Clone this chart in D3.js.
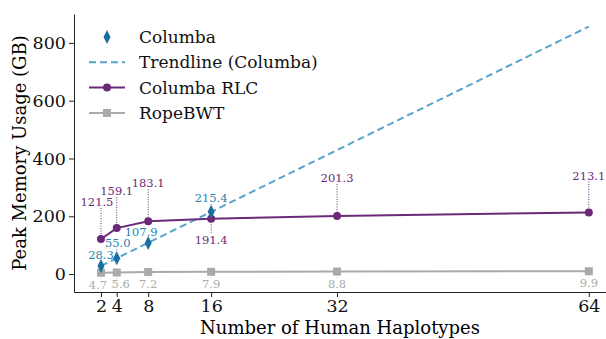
<!DOCTYPE html>
<html>
<head>
<meta charset="utf-8">
<script src="https://cdn.jsdelivr.net/npm/d3@7"></script>
<style>
  body { margin: 0; background: #fff; }
</style>
</head>
<body>
<svg id="svg"></svg>
<script>
const haplotypes = [2, 4, 8, 16, 32, 64];
const columbaX = [2, 4, 8, 16];
const columba = [28.3, 55.0, 107.9, 215.4];
const columbaRLC = [121.5, 159.1, 183.1, 191.4, 201.3, 213.1];
const ropeBWT = [4.7, 5.6, 7.2, 7.9, 8.8, 9.9];
const yTicks = [0, 200, 400, 600, 800];

const width = 606, height = 339;
const blue = "#1b6fa0", trendBlue = "#5aa3cc", purple = "#6b2a78", grey = "#aaaaaa";
const font = "DejaVu Serif";

const svg = d3.select("#svg")
  .attr("width", width)
  .attr("height", height)
  .attr("viewBox", [0, 0, width, height])
  .attr("font-family", font);

const x = d3.scaleLinear([-1.43, 67.2], [74, 614]);
const y = d3.scaleLinear([-62, 900], [292, 14]);

// least squares fit of Columba points
const mx = d3.mean(columbaX), my = d3.mean(columba);
const slope = d3.sum(columbaX, (v, i) => (v - mx) * (columba[i] - my)) / d3.sum(columbaX, v => (v - mx) ** 2);
const icept = my - slope * mx;
const trendX = [haplotypes[0], haplotypes[haplotypes.length - 1]];

// axes
const xAxis = svg.append("g")
  .attr("transform", `translate(0,${y(-62)})`)
  .call(d3.axisBottom(x).tickValues(haplotypes).tickSizeInner(5).tickSizeOuter(0).tickPadding(3));
const yAxis = svg.append("g")
  .attr("transform", `translate(${x(-1.43)},0)`)
  .call(d3.axisLeft(y).tickValues(yTicks).tickSizeInner(5).tickSizeOuter(0).tickPadding(3));
[xAxis, yAxis].forEach(g => {
  g.selectAll("text").attr("font-family", font).attr("font-size", 17.5).attr("fill", "#111");
  g.selectAll("line,path").attr("stroke", "#222").attr("stroke-width", 1);
});

svg.append("text")
  .attr("x", 340).attr("y", 334)
  .attr("text-anchor", "middle")
  .attr("font-size", 18)
  .text("Number of Human Haplotypes");
svg.append("text")
  .attr("transform", "translate(26,153) rotate(-90)")
  .attr("text-anchor", "middle")
  .attr("font-size", 18)
  .text("Peak Memory Usage (GB)");

const line = d3.line().x(d => x(d[0])).y(d => y(d[1]));

// trendline
svg.append("path")
  .datum(trendX.map(v => [v, slope * v + icept]))
  .attr("fill", "none")
  .attr("stroke", trendBlue)
  .attr("stroke-width", 2)
  .attr("stroke-dasharray", "7,4")
  .attr("d", line);

// RopeBWT
svg.append("path")
  .datum(haplotypes.map((v, i) => [v, ropeBWT[i]]))
  .attr("fill", "none").attr("stroke", grey).attr("stroke-width", 2)
  .attr("d", line);
svg.selectAll(".sq").data(haplotypes).join("rect")
  .attr("x", d => x(d) - 4).attr("y", (d, i) => y(ropeBWT[i]) - 4)
  .attr("width", 8).attr("height", 8).attr("fill", grey);

// Columba RLC
svg.append("path")
  .datum(haplotypes.map((v, i) => [v, columbaRLC[i]]))
  .attr("fill", "none").attr("stroke", purple).attr("stroke-width", 2)
  .attr("d", line);
svg.selectAll(".dot").data(haplotypes).join("circle")
  .attr("cx", d => x(d)).attr("cy", (d, i) => y(columbaRLC[i]))
  .attr("r", 4).attr("fill", purple);

// Columba diamonds
const diamond = "M0,-7L3.5,0L0,7L-3.5,0Z";
svg.selectAll(".dia").data(columbaX).join("path")
  .attr("transform", (d, i) => `translate(${x(d)},${y(columba[i])})`)
  .attr("d", diamond).attr("fill", blue);

// value labels with dotted leaders, offsets in px from the marker
function labels(xs, vals, color, offs) {
  xs.forEach((v, i) => {
    const px = x(v), py = y(vals[i]);
    const [dx, dy] = offs[i];
    const tx = px + dx, ty = py + dy;
    svg.append("line")
      .attr("x1", px).attr("x2", px)
      .attr("y1", dy < 0 ? ty + 6 : py + 3)
      .attr("y2", dy < 0 ? py - 3 : ty - 6)
      .attr("stroke", color).attr("stroke-width", 1)
      .attr("stroke-dasharray", "1,1.5");
    svg.append("text")
      .attr("x", tx).attr("y", ty)
      .attr("dy", "0.35em")
      .attr("text-anchor", "middle")
      .attr("font-size", 11.5)
      .attr("fill", color)
      .text(vals[i].toFixed(1));
  });
}
labels(columbaX, columba, "#2a7fb0", [[0, -11], [1, -15], [-7, -11], [0, -14]]);
labels(haplotypes, columbaRLC, purple, [[-4, -37], [0, -37], [0, -38], [0, 21], [0, -38], [0, -37]]);
labels(haplotypes, ropeBWT, grey, [[-3, 12], [4, 12], [0, 12], [0, 12], [0, 12], [0, 12]]);

// legend
const legend = svg.append("g").attr("font-size", 17);
const items = [
  {name: "Columba", kind: "dia"},
  {name: "Trendline (Columba)", kind: "trend"},
  {name: "Columba RLC", kind: "rlc"},
  {name: "RopeBWT", kind: "rope"}
];
items.forEach((it, i) => {
  const ly = 37 + i * 25.3;
  const g = legend.append("g").attr("transform", `translate(0,${ly})`);
  if (it.kind === "dia") {
    g.append("path").attr("transform", "translate(107,0)").attr("d", diamond).attr("fill", blue);
  } else {
    const c = it.kind === "trend" ? trendBlue : it.kind === "rlc" ? purple : grey;
    g.append("line").attr("x1", 89).attr("x2", 125).attr("y1", 0).attr("y2", 0)
      .attr("stroke", c).attr("stroke-width", 2)
      .attr("stroke-dasharray", it.kind === "trend" ? "7,4" : null);
    if (it.kind === "rlc") g.append("circle").attr("cx", 107).attr("r", 4).attr("fill", c);
    if (it.kind === "rope") g.append("rect").attr("x", 103).attr("y", -4).attr("width", 8).attr("height", 8).attr("fill", c);
  }
  g.append("text").attr("x", 139).attr("dy", "0.35em").attr("fill", "#111").text(it.name);
});
</script>
</body>
</html>
